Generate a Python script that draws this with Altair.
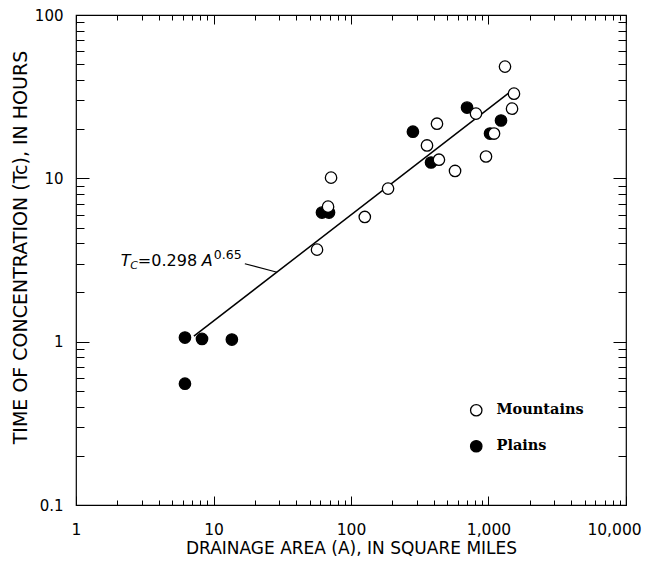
import altair as alt
import pandas as pd

# ---------------- values ----------------
mountains_area = [56.6, 68.1, 71.6, 126, 186, 357, 422, 436, 571, 811, 959, 1097, 1318, 1483, 1532]
mountains_tc = [3.66, 6.71, 10.1, 5.8, 8.65, 15.9, 21.6, 13.0, 11.1, 24.9, 13.6, 18.8, 48.3, 26.7, 33.0]
plains_area = [6.2, 6.2, 8.25, 13.6, 61.5, 69.2, 282, 382, 698, 1026, 1233]
plains_tc = [1.06, 0.553, 1.04, 1.03, 6.17, 6.17, 19.3, 12.5, 27.1, 18.8, 22.6]

# regression line Tc = 0.298 A^0.65 (end points as drawn)
fit_area = [7.2, 1400]
fit_tc = [1.08, 33.2]
# leader from the equation label to the line
leader_area = [16.9, 29.0]
leader_tc = [3.0, 2.66]
# anchor of the equation label
label_area = [2.12]
label_tc = [3.13]
label_parts = ["T", "C", "=0.298", "A", "0.65"]

categories = ["Mountains", "Plains"]
x_major = [1, 10, 100, 1000, 10000]
y_major = [0.1, 1, 10, 100]
minor_steps = [2, 3, 4, 5, 6, 7, 8, 9]
x_ticks = sorted(x_major + [round(d * m, 6) for d in x_major[:-1] for m in minor_steps])
y_ticks = sorted(y_major + [round(d * m, 6) for d in y_major[:-1] for m in minor_steps])

x_title = "DRAINAGE AREA (A), IN SQUARE MILES"
y_title = "TIME OF CONCENTRATION (Tc), IN HOURS"

# ---------------- styling ----------------
W, H = 550, 490
FONT = "DejaVu Sans"
SERIF = "DejaVu Serif"
MAJOR = "abs(log(datum.value)/LN10 - round(log(datum.value)/LN10)) < 0.001"

xs = alt.Scale(type="log", domain=[1, 10000], nice=False)
ys = alt.Scale(type="log", domain=[0.1, 100], nice=False)


def tick_axis(orient, offset, values, major_len, minor_len):
    return alt.Axis(
        orient=orient, offset=offset, values=values, labels=False, domain=False,
        grid=False, title=None, tickColor="black", tickWidth=1,
        tickSize={"condition": {"test": MAJOR, "value": major_len}, "value": minor_len},
    )


x_label_axis = alt.Axis(
    orient="bottom", values=x_major, labelExpr="format(datum.value, ',')",
    ticks=False, domain=False, grid=False, labelFlush=False, labelOverlap=False,
    labelFont=FONT, labelFontSize=15.5, labelColor="black", labelPadding=17,
    labelOffset={"condition": {"test": "datum.value >= 10000", "value": -12}, "value": 0},
    title=x_title, titleFont=FONT, titleFontSize=17, titleFontWeight="normal",
    titleColor="black", titlePadding=3,
)
y_label_axis = alt.Axis(
    orient="left", values=y_major, labelExpr="format(datum.value, ',')",
    ticks=False, domain=False, grid=False, labelFlush=False, labelOverlap=False,
    labelFont=FONT, labelFontSize=15, labelColor="black", labelPadding=13,
    title=y_title, titleFont=FONT, titleFontSize=19, titleFontWeight="normal",
    titleColor="black", titlePadding=4, titleY=232,
)
x_tick_bottom = tick_axis("top", -H, x_ticks, 9, 5)
x_tick_top = tick_axis("bottom", -H, x_ticks, 9, 5)
y_tick_left = tick_axis("right", -W, y_ticks, 13, 8)
y_tick_right = tick_axis("left", -W, y_ticks, 13, 8)

legend = alt.Legend(
    orient="none", legendX=393, legendY=388, title=None, padding=0,
    labelFont=SERIF, labelFontWeight="bold", labelFontSize=14.5, labelColor="black",
    labelOffset=13, rowPadding=18, symbolType="circle", symbolSize=130,
    symbolStrokeColor="black", symbolStrokeWidth=1.3,
)

# ---------------- tables ----------------
points_df = pd.DataFrame({
    "area": plains_area + mountains_area,
    "tc": plains_tc + mountains_tc,
    "region": ["Plains"] * len(plains_area) + ["Mountains"] * len(mountains_area),
})
fit_df = pd.DataFrame({"area": fit_area, "tc": fit_tc})
leader_df = pd.DataFrame({"area": leader_area, "tc": leader_tc})
label_df = pd.DataFrame({"area": label_area, "tc": label_tc})

fit = alt.Chart(fit_df).mark_line(color="black", strokeWidth=1.5).encode(
    x=alt.X("area:Q", scale=xs, axis=x_tick_bottom),
    y=alt.Y("tc:Q", scale=ys, axis=y_tick_left),
)
leader = alt.Chart(leader_df).mark_line(color="black", strokeWidth=1.1).encode(
    x=alt.X("area:Q", scale=xs, axis=x_tick_top),
    y=alt.Y("tc:Q", scale=ys, axis=y_tick_right),
)

base_ann = alt.Chart(label_df).encode(
    x=alt.X("area:Q", scale=xs, axis=None),
    y=alt.Y("tc:Q", scale=ys, axis=None),
)
ann_style = dict(font=FONT, color="black", align="left", baseline="middle")
t1 = base_ann.mark_text(text=label_parts[0], fontSize=16, fontStyle="italic", dx=0, **ann_style)
t2 = base_ann.mark_text(text=label_parts[1], fontSize=11, fontStyle="italic", dx=9.5, dy=5, **ann_style)
t3 = base_ann.mark_text(text=label_parts[2], fontSize=16, dx=17, **ann_style)
t4 = base_ann.mark_text(text=label_parts[3], fontSize=16, fontStyle="italic", dx=81, **ann_style)
t5 = base_ann.mark_text(text=label_parts[4], fontSize=12.5, dx=93, dy=-6, **ann_style)

points = alt.Chart(points_df).mark_point(
    filled=True, stroke="black", strokeWidth=1.3, size=130, opacity=1, shape="circle"
).encode(
    x=alt.X("area:Q", scale=xs, axis=x_label_axis),
    y=alt.Y("tc:Q", scale=ys, axis=y_label_axis),
    fill=alt.Fill("region:N", scale=alt.Scale(domain=categories, range=["white", "black"]), legend=legend),
)

chart = alt.layer(fit, leader, t1, t2, t3, t4, t5, points).resolve_axis(
    x="independent", y="independent"
).properties(
    width=W, height=H, padding={"left": 3, "top": 0, "right": 0, "bottom": 0},
    background="white",
).configure_view(
    stroke="black", strokeWidth=1.2
)

chart.save("out.html", embed_options={"renderer": "svg", "actions": False})
